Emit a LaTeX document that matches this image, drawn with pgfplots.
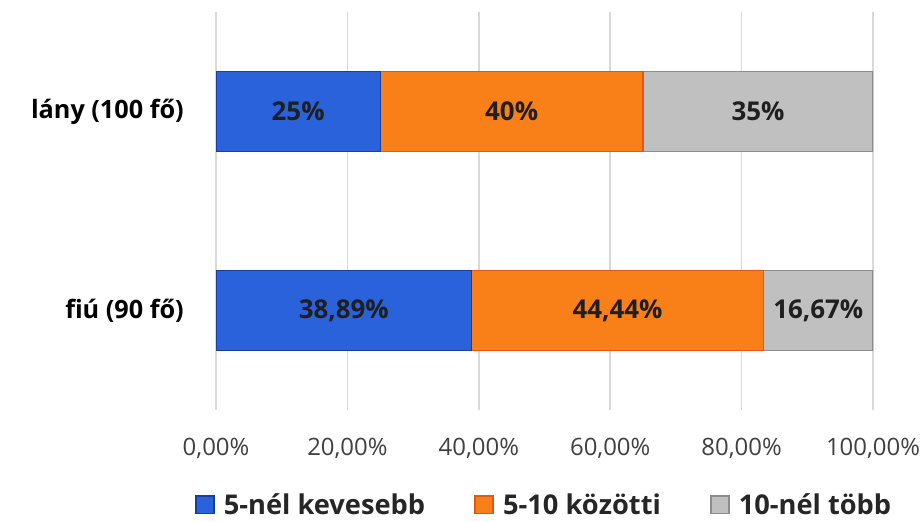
\documentclass[border=0pt]{standalone}
\usepackage{fontspec}
\setmainfont{Open Sans}
\usepackage{pgfplots}
\usepackage{pgfplotstable}
\pgfplotsset{compat=1.18}

\definecolor{kek}{HTML}{2A62DC}
\definecolor{kekvonal}{HTML}{1A3E9E}
\definecolor{narancs}{HTML}{F98019}
\definecolor{narancsvonal}{HTML}{E2561A}
\definecolor{szurke}{HTML}{C0C0C0}
\definecolor{szurkevonal}{HTML}{8C8C8C}
\definecolor{racs}{HTML}{D9D9D9}
\definecolor{felirat}{HTML}{404040}

% y: 0 = fiú, 1 = lány
\pgfplotstableread{
y  a      b      c
0  38.89  44.44  16.67
1  25     40     35
}\adatok

\begin{document}
\begin{tikzpicture}
\path[use as bounding box] (0,0) rectangle (692.25bp,391.5bp);
\begin{axis}[
    at={(162bp,84bp)}, anchor=south west,
    scale only axis,
    width=492.75bp, height=298.5bp,
    xbar stacked,
    bar width=0.4,
    xmin=0, xmax=100,
    ymin=-0.5, ymax=1.5,
    ytick={0,1},
    yticklabels={fiú (90 fő), lány (100 fő)},
    xtick={0,20,40,60,80,100},
    xticklabels={{0,00\%}, {20,00\%}, {40,00\%}, {60,00\%}, {80,00\%}, {100,00\%}},
    axis line style={draw=none},
    major tick length=0pt,
    xmajorgrids,
    major grid style={color=racs, line width=1.1bp},
    yticklabel style={font=\fontsize{19}{22}\selectfont\bfseries, color=black, inner sep=0pt, xshift=-24bp},
    xticklabel style={font=\fontsize{18}{21}\selectfont, color=felirat, inner sep=0pt, yshift=-21bp},
    /pgf/number format/assume math mode=true,
    nodes near coords={\pgfmathprintnumber[use comma,fixed,precision=2]{\szelesseg}\%},
    every node near coord/.append style={font=\fontsize{19.5}{22}\selectfont\bfseries, color=black!88,
        anchor=center, inner sep=0pt},
    legend style={at={(-0.032,-0.238)}, anchor=west, draw=none, inner sep=0pt,
        font=\fontsize{20.5}{23}\selectfont\bfseries, text=black!85,
        legend columns=3,
        /tikz/every odd column/.append style={column sep=5bp},
        /tikz/every even column/.append style={column sep=35bp}},
    legend image code/.code={\draw[#1] (0bp,-6.5bp) rectangle (13.5bp,6.5bp);},
]
\addplot[fill=kek, draw=kekvonal, line width=1bp,
    visualization depends on={\thisrow{a} \as \szelesseg}] table[x=a, y=y] {\adatok};
\addplot[fill=narancs, draw=narancsvonal, line width=1bp,
    visualization depends on={\thisrow{b} \as \szelesseg}] table[x=b, y=y] {\adatok};
\addplot[fill=szurke, draw=szurkevonal, line width=1bp,
    visualization depends on={\thisrow{c} \as \szelesseg}] table[x=c, y=y] {\adatok};
\legend{5-nél kevesebb, 5-10 közötti, 10-nél több}
\end{axis}
\end{tikzpicture}
\end{document}
